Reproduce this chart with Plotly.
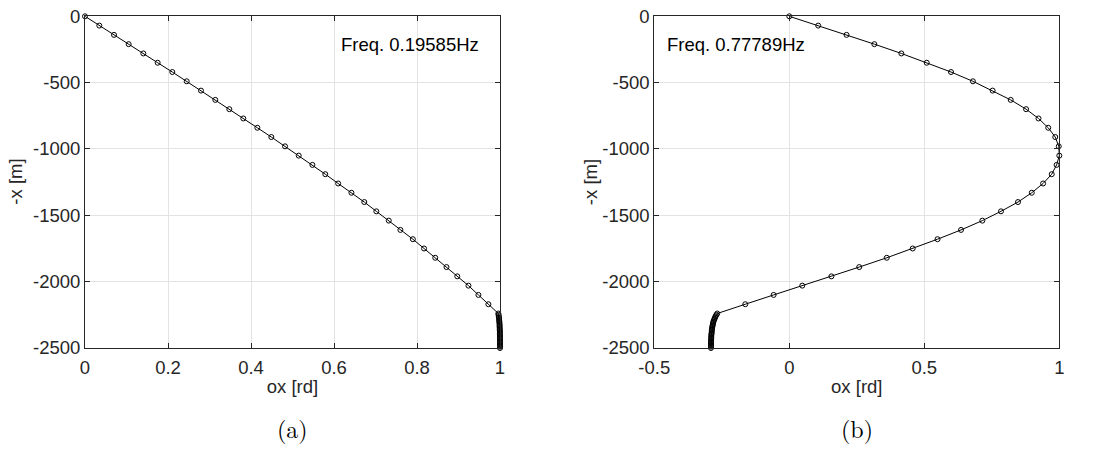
import plotly.graph_objects as go

# depth (-x) in metres: regular stations then dense stations near the bottom
depth_regular = [0, -70, -140, -210, -280, -350, -420, -490, -560, -630, -700,
                 -770, -840, -910, -980, -1050, -1120, -1190, -1260, -1330,
                 -1400, -1470, -1540, -1610, -1680, -1750, -1820, -1890, -1960,
                 -2030, -2100, -2170, -2240]
depth_dense = [-2250, -2260, -2270, -2280, -2290, -2300, -2310, -2320, -2330,
               -2340, -2350, -2360, -2370, -2380, -2390, -2400, -2410, -2420,
               -2430, -2440, -2450, -2460, -2470, -2480, -2490, -2500]

# mode (a): Freq. 0.19585 Hz
ox_a_regular = [0, 0.0345, 0.0699, 0.1052, 0.1406, 0.1751, 0.2104, 0.245,
                0.2795, 0.314, 0.3478, 0.3815, 0.4153, 0.449, 0.482, 0.515,
                0.548, 0.579, 0.610, 0.642, 0.673, 0.702, 0.732, 0.760, 0.790,
                0.817, 0.844, 0.871, 0.897, 0.924, 0.948, 0.972, 0.996]
ox_a_dense = [0.9965, 0.997, 0.9975, 0.998, 0.998, 0.9985, 0.9985, 0.999,
              0.999, 0.999, 0.9993, 0.9995, 0.9995, 0.9997, 0.9997, 0.9998,
              0.9998, 0.9999, 0.9999, 1.0, 1.0, 1.0, 1.0, 1.0, 1.0, 1.0]

# mode (b): Freq. 0.77789 Hz
ox_b_regular = [0, 0.107, 0.212, 0.315, 0.415, 0.509, 0.599, 0.680, 0.753,
                0.820, 0.877, 0.923, 0.959, 0.985, 0.998, 1.000, 0.990, 0.972,
                0.940, 0.898, 0.847, 0.784, 0.715, 0.636, 0.549, 0.457, 0.361,
                0.259, 0.156, 0.048, -0.058, -0.163, -0.267]
ox_b_dense = [-0.270, -0.273, -0.275, -0.277, -0.279, -0.281, -0.282, -0.283,
              -0.284, -0.285, -0.286, -0.2865, -0.287, -0.2875, -0.288,
              -0.2885, -0.289, -0.289, -0.2895, -0.2895, -0.290, -0.290,
              -0.290, -0.290, -0.290, -0.290]

freq_labels = ["Freq. 0.19585Hz", "Freq. 0.77789Hz"]
captions = ["(a)", "(b)"]
x_title = "ox [rd]"
y_title = "-x [m]"
x_ticks_a = [0, 0.2, 0.4, 0.6, 0.8, 1]
x_ticks_b = [-0.5, 0, 0.5, 1]
y_ticks = [0, -500, -1000, -1500, -2000, -2500]

W, H = 1094, 460
FONT = "Liberation Sans, Arial, Helvetica, sans-serif"
FS = 18.5
AX = "#262626"
GRID = "#e3e3e3"

depth = depth_regular + depth_dense
ox_a = ox_a_regular + ox_a_dense
ox_b = ox_b_regular + ox_b_dense


def lab(v):
    return f"{v:g}"


fig = go.Figure()
line_style = dict(color="black", width=1)
marker_style = dict(symbol="circle-open", size=5, color="black",
                    line=dict(width=1, color="black"))
fig.add_trace(go.Scatter(x=ox_a, y=depth, mode="lines+markers", line=line_style,
                         marker=marker_style, cliponaxis=False,
                         xaxis="x", yaxis="y", showlegend=False))
fig.add_trace(go.Scatter(x=ox_b, y=depth, mode="lines+markers", line=line_style,
                         marker=marker_style, cliponaxis=False,
                         xaxis="x2", yaxis="y2", showlegend=False))

ytop = 1 - 16.3 / H
ybot = 1 - 348 / H
dom_a = [85 / W, 500 / W]
dom_b = [654.3 / W, 1059.3 / W]


def xaxis_style():
    return dict(showline=True, linecolor=AX, linewidth=1, mirror="ticks",
                ticks="inside", ticklen=5, tickcolor=AX, showgrid=True,
                gridcolor=GRID, gridwidth=1, zeroline=False, automargin=False,
                tickfont=dict(family=FONT, size=FS, color=AX),
                ticklabelstandoff=3,
                title=dict(text=x_title, font=dict(family=FONT, size=FS, color=AX),
                           standoff=2))


def yaxis_style():
    return dict(showline=True, linecolor=AX, linewidth=1, mirror="ticks",
                ticks="inside", ticklen=5, tickcolor=AX, showgrid=True,
                gridcolor=GRID, gridwidth=1, zeroline=False, automargin=False,
                range=[-2500, 0], tickvals=y_ticks, ticktext=[lab(v) for v in y_ticks],
                tickfont=dict(family=FONT, size=FS, color=AX))


fig.update_layout(
    width=W, height=H,
    margin=dict(l=0, r=0, t=0, b=0),
    plot_bgcolor="white", paper_bgcolor="white",
    xaxis=dict(domain=dom_a, anchor="y", range=[0, 1], tickvals=x_ticks_a,
               ticktext=[lab(v) for v in x_ticks_a], **xaxis_style()),
    yaxis=dict(domain=[ybot, ytop], anchor="x", **yaxis_style()),
    xaxis2=dict(domain=dom_b, anchor="y2", range=[-0.5, 1], tickvals=x_ticks_b,
                ticktext=[lab(v) for v in x_ticks_b], **xaxis_style()),
    yaxis2=dict(domain=[ybot, ytop], anchor="x2", **yaxis_style()),
)

# y axis titles (rotated)
for xc in (15.5 / W, 590 / W):
    fig.add_annotation(text=y_title, xref="paper", yref="paper", x=xc,
                       y=(ybot + ytop) / 2, xanchor="center", yanchor="middle",
                       textangle=-90, showarrow=False,
                       font=dict(family=FONT, size=FS, color=AX))

fig.add_annotation(text=freq_labels[0], xref="x", yref="paper", x=0.955, y=1 - 45 / H,
                   xanchor="right", yanchor="middle", showarrow=False,
                   font=dict(family=FONT, size=FS, color="black"))
fig.add_annotation(text=freq_labels[1], xref="x2", yref="paper", x=-0.462, y=1 - 45 / H,
                   xanchor="left", yanchor="middle", showarrow=False,
                   font=dict(family=FONT, size=FS, color="black"))

SERIF = "Latin Modern Roman, CMU Serif, Liberation Serif, DejaVu Serif, serif"
fig.add_annotation(text=captions[0], xref="paper", yref="paper", x=292 / W, y=1 - 428 / H,
                   xanchor="center", yanchor="middle", showarrow=False,
                   font=dict(family=SERIF, size=24, color="black"))
fig.add_annotation(text=captions[1], xref="paper", yref="paper", x=857 / W, y=1 - 428 / H,
                   xanchor="center", yanchor="middle", showarrow=False,
                   font=dict(family=SERIF, size=24, color="black"))

fig.write_html("out.html", config={"displayModeBar": False},
               post_script="document.body.style.margin='0';document.body.style.padding='0';")
